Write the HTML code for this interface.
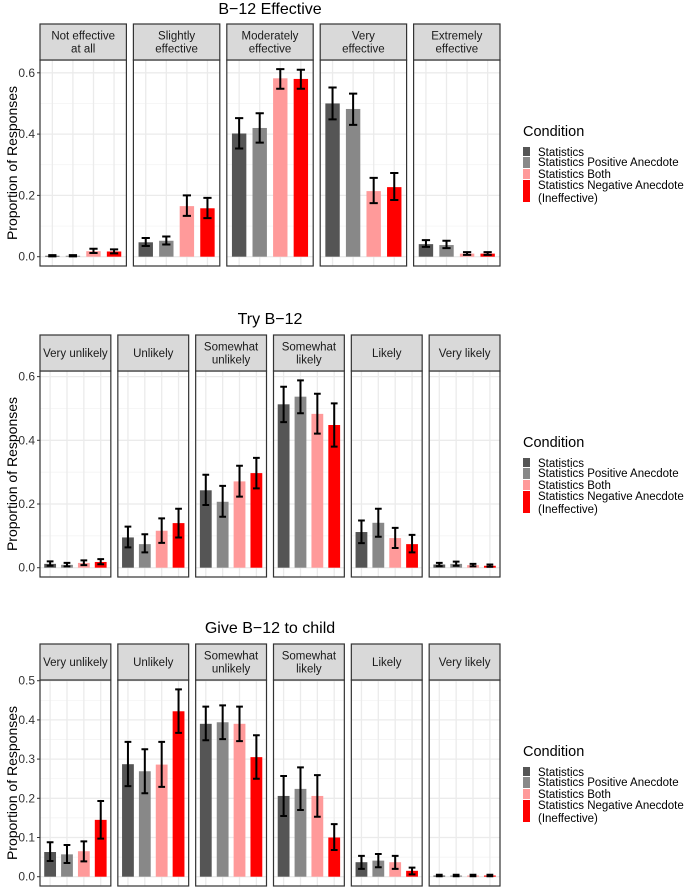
<!DOCTYPE html>
<html><head><meta charset="utf-8"><style>
html,body{margin:0;padding:0;background:#fff}
svg text{font-family:"Liberation Sans",Arial,sans-serif}
</style></head><body>
<svg id="fig" width="685" height="887" viewBox="0 0 685 887" xmlns="http://www.w3.org/2000/svg"></svg>
<script>
// ---- Data ----
const conditions = ["Statistics","Statistics Positive Anecdote","Statistics Both","Statistics Negative Anecdote"];
const condColors = ["#555555","#888888","#ff9a9a","#ff0000"];

const c1Title = "B\u221212 Effective";
const c1Categories = [["Not effective","at all"],["Slightly","effective"],["Moderately","effective"],["Very","effective"],["Extremely","effective"]];
const c1Values = [[.003,.003,.018,.017],[.047,.052,.165,.158],[.402,.42,.582,.58],[.5,.482,.214,.227],[.041,.038,.01,.01]];
const c1Lo = [[.001,.001,.012,.011],[.035,.04,.133,.126],[.353,.372,.548,.548],[.448,.43,.175,.185],[.032,.028,.006,.006]];
const c1Hi = [[.005,.005,.026,.024],[.061,.066,.2,.192],[.452,.468,.612,.61],[.552,.532,.257,.273],[.054,.052,.015,.015]];
const c1Ticks = [0,0.2,0.4,0.6];
const c1TickLabels = ["0.0","0.2","0.4","0.6"];
const c1Minor = [0.1,0.3,0.5];

const c2Title = "Try B\u221212";
const c2Categories = [["Very unlikely"],["Unlikely"],["Somewhat","unlikely"],["Somewhat","likely"],["Likely"],["Very likely"]];
const c2Values = [[.012,.009,.015,.018],[.095,.074,.116,.140],[.243,.207,.271,.297],[.513,.537,.483,.448],[.112,.141,.093,.074],[.010,.012,.008,.006]];
const c2Lo = [[.006,.004,.008,.011],[.064,.048,.078,.095],[.197,.16,.223,.249],[.457,.485,.421,.38],[.077,.097,.062,.048],[.005,.006,.004,.003]];
const c2Hi = [[.020,.015,.023,.027],[.129,.105,.155,.185],[.292,.257,.32,.345],[.568,.588,.546,.516],[.148,.185,.125,.103],[.015,.019,.012,.010]];
const c2Ticks = [0,0.2,0.4,0.6];
const c2TickLabels = ["0.0","0.2","0.4","0.6"];
const c2Minor = [0.1,0.3,0.5];

const c3Title = "Give B\u221212 to child";
const c3Categories = [["Very unlikely"],["Unlikely"],["Somewhat","unlikely"],["Somewhat","likely"],["Likely"],["Very likely"]];
const c3Values = [[.063,.057,.065,.145],[.287,.269,.286,.422],[.39,.394,.39,.305],[.206,.224,.206,.1],[.037,.041,.037,.015],[.003,.003,.003,.003]];
const c3Lo = [[.04,.035,.039,.097],[.231,.213,.229,.367],[.348,.351,.346,.25],[.155,.17,.153,.068],[.02,.024,.02,.006],[.001,.001,.001,.001]];
const c3Hi = [[.088,.081,.09,.193],[.344,.325,.344,.478],[.434,.437,.434,.361],[.257,.279,.259,.134],[.053,.058,.053,.023],[.005,.005,.005,.005]];
const c3Ticks = [0,0.1,0.2,0.3,0.4,0.5];
const c3TickLabels = ["0.0","0.1","0.2","0.3","0.4","0.5"];
const c3Minor = [0.05,0.15,0.25,0.35,0.45];

// ---- Rendering ----
const NS = "http://www.w3.org/2000/svg";
const svg = document.getElementById("fig");
function mk(tag, attrs, parent){ const e=document.createElementNS(NS,tag); for(const k in attrs) e.setAttribute(k,attrs[k]); (parent||svg).appendChild(e); return e; }

function drawChart(id, title, cats, vals, lo, hi, ticks, tickLabels, minor, geo){
  const g = mk("g",{});
  
  
  const yScale = v => geo.y0 - v*geo.scale;
  const n = cats.length;
  const step = (geo.right - geo.left + geo.gap)/n;
  const pw = step - geo.gap;
  const unit = pw/4.2;
  const xScale = (p,k) => geo.left + p*step + (0.6 + k)*unit;
  const t = mk("text",{x:geo.titleX,y:geo.titleY,"text-anchor":"middle","font-size":"16",fill:"#000"},g);
  t.textContent = title;
  
  
  const yt = mk("text",{x:0,y:0,"text-anchor":"middle","font-size":"14",fill:"#000",transform:`translate(17,${(geo.bodyTop+geo.bodyBottom)/2}) rotate(-90)`},g);
  yt.textContent = "Proportion of Responses";
  
  
  ticks.forEach((tv,i)=>{
    const y = yScale(tv);
    const tl = mk("text",{x:35,y:y+4,"text-anchor":"end","font-size":"12",fill:"#333"},g);
    tl.textContent = tickLabels[i];
    
    
    mk("line",{x1:37,x2:geo.left,y1:y,y2:y,stroke:"#333","stroke-width":1},g);
  });
  for(let p=0;p<n;p++){
    const px = geo.left + p*step;
    const pg = mk("g",{},g);
    
    
    mk("rect",{x:px,y:geo.bodyTop,width:pw,height:geo.bodyBottom-geo.bodyTop,fill:"#fff"},pg);
    minor.forEach(mv=>{ const y=yScale(mv); if(y>geo.bodyTop) mk("line",{x1:px,x2:px+pw,y1:y,y2:y,stroke:"#f2f2f2","stroke-width":0.7},pg); });
    ticks.forEach(tv=>{ const y=yScale(tv); mk("line",{x1:px,x2:px+pw,y1:y,y2:y,stroke:"#ebebeb","stroke-width":1.3},pg); });
    for(let k=0;k<4;k++){ const x=xScale(p,k); mk("line",{x1:x,x2:x,y1:geo.bodyTop,y2:geo.bodyBottom,stroke:"#ebebeb","stroke-width":1.3},pg); }
    for(let k=0;k<4;k++){
      const x = xScale(p,k), bw = 0.7*unit;
      const b = mk("rect",{x:x-bw/2,y:yScale(vals[p][k]),width:bw,height:yScale(0)-yScale(vals[p][k]),fill:condColors[k]},pg);
      
      
      const cw = 0.2*unit;
      const e = mk("path",{d:`M${x-cw},${yScale(hi[p][k])}H${x+cw}M${x},${yScale(hi[p][k])}V${yScale(lo[p][k])}M${x-cw},${yScale(lo[p][k])}H${x+cw}`,stroke:"#000","stroke-width":2,fill:"none"},pg);
      
      
    }
    mk("rect",{x:px,y:geo.bodyTop,width:pw,height:geo.bodyBottom-geo.bodyTop,fill:"none",stroke:"#333","stroke-width":1.2},pg);
    const st = mk("rect",{x:px,y:geo.stripTop,width:pw,height:geo.bodyTop-geo.stripTop,fill:"#d9d9d9",stroke:"#333","stroke-width":1.2},pg);
    
    
    const lines = cats[p];
    const cy = (geo.stripTop+geo.bodyTop)/2;
    lines.forEach((ln,i)=>{
      const tx = mk("text",{x:px+pw/2,y:cy+4+(i-(lines.length-1)/2)*13,"text-anchor":"middle","font-size":"11.5",fill:"#1a1a1a"},pg);
      tx.textContent = ln;
      
      
    });
  }
  const lg = mk("g",{},g);
  
  
  const lt = mk("text",{x:523,y:geo.legY,"font-size":"14.5",fill:"#000"},lg);
  lt.textContent = "Condition";
  const rows = [[geo.legY+11,9],[geo.legY+21,11],[geo.legY+33,10],[geo.legY+44,22]];
  conditions.forEach((c,i)=>{
    const r = mk("rect",{x:523,y:rows[i][0],width:7,height:rows[i][1],fill:condColors[i]},lg);
    
    
    const tx = mk("text",{x:538,y:rows[i][0]+9,"font-size":"11.5",fill:"#000"},lg);
    tx.textContent = c;
    
    
  });
  const tx2 = mk("text",{x:538,y:rows[3][0]+22,"font-size":"11.5",fill:"#000"},lg);
  tx2.textContent = "(Ineffective)";
}

drawChart("chart-b12-effective", c1Title, c1Categories, c1Values, c1Lo, c1Hi, c1Ticks, c1TickLabels, c1Minor,
  {left:40,right:500,gap:7,stripTop:24,bodyTop:60,bodyBottom:266,y0:256.7,scale:306.5,titleX:270,titleY:14,legY:136});
drawChart("chart-try-b12", c2Title, c2Categories, c2Values, c2Lo, c2Hi, c2Ticks, c2TickLabels, c2Minor,
  {left:40,right:500,gap:7,stripTop:335,bodyTop:371,bodyBottom:577,y0:567.7,scale:318.5,titleX:270,titleY:324,legY:447});
drawChart("chart-give-child", c3Title, c3Categories, c3Values, c3Lo, c3Hi, c3Ticks, c3TickLabels, c3Minor,
  {left:40,right:500,gap:7,stripTop:644,bodyTop:680,bodyBottom:886,y0:876.7,scale:392,titleX:270,titleY:633,legY:756});
</script>
</body></html>
